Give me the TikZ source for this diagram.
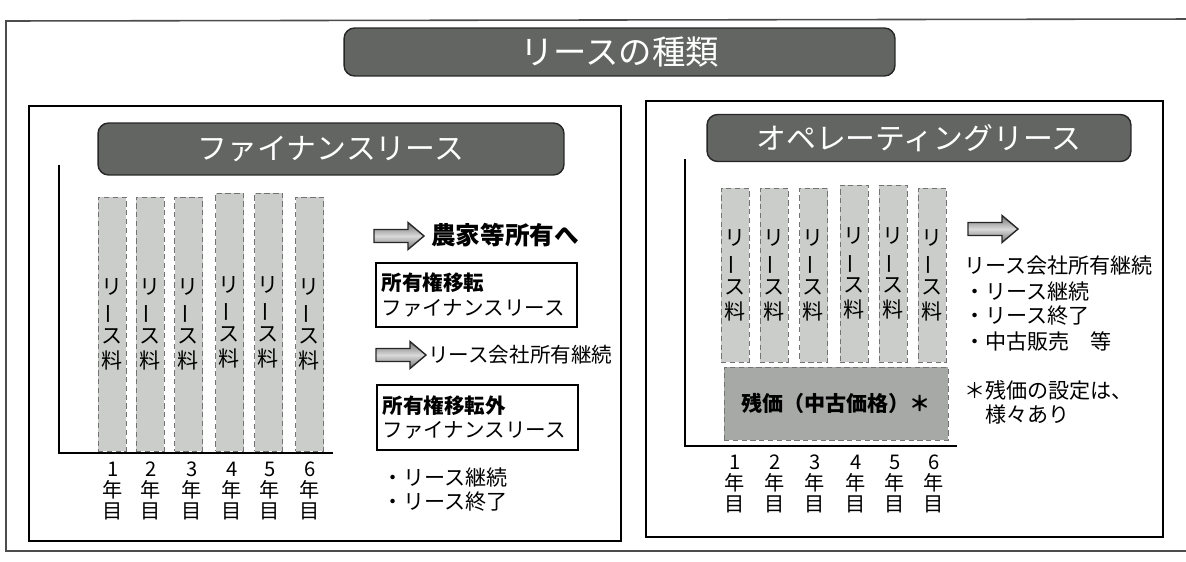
\documentclass[tikz,border=0pt]{standalone}
\usepackage{fontspec}
\setmainfont{Noto Sans CJK JP}
\definecolor{hdrfill}{HTML}{626562}
\definecolor{barfill}{HTML}{CBCDCB}
\definecolor{resfill}{HTML}{A7A9A7}
\newcommand{\tatebou}{\rotatebox[origin=c]{90}{ー}}
\newcommand{\barlabel}{リ\\\tatebou\\ス\\料}
\begin{document}
\begin{tikzpicture}[x=0.02cm,y=-0.02cm,
  frame/.style={draw=black, line width=1.1pt},
  hdr/.style={draw=black!85, line width=0.8pt, fill=hdrfill, rounded corners=6pt, text=white, inner sep=0pt},
  barbox/.style={draw=black!55, densely dashed, line width=0.4pt, fill=barfill, inner sep=0pt, minimum width=0.56cm, font=\fontsize{12}{14}\selectfont, align=center},
  lbar/.style={barbox, minimum height=5.08cm},
  rbar/.style={barbox, minimum height=3.48cm},
  yr/.style={align=center, inner sep=0pt, font=\fontsize{11.5}{12}\selectfont},
  txt/.style={anchor=west, inner sep=0pt, font=\fontsize{12}{14}\selectfont},
  plainbox/.style={draw=black, line width=1pt, text width=3.8cm, inner xsep=0.11cm, inner ysep=0pt, align=left, font=\fontsize{11.7}{14}\selectfont},
  arrowfill/.style={draw=black!85, line width=0.8pt, top color=black!55, bottom color=black!55, middle color=black!15},
  blockarrow/.pic={\path[arrowfill] (0,-6.5) -- (34,-6.5) -- (34,-13.5) -- (50,0) -- (34,13.5) -- (34,6.5) -- (0,6.5) -- cycle;}
]
\clip (0,0) rectangle (1186,561);
% outer frame
\draw[draw=black!70, line width=0.9pt] (1200,19) -- (6,21) -- (6,551) -- (1200,551);
% title
\node[hdr, minimum width=11.02cm, minimum height=0.96cm, font=\fontsize{19}{22}\selectfont] (title) at (619.5,52) {リースの種類};
% panels
\draw[frame] (29,106) rectangle (621,541);
\draw[frame] (646,101) rectangle (1163,537);
% headers
\node[hdr, minimum width=9.32cm, minimum height=1.04cm, font=\fontsize{17}{20}\selectfont] (hfin) at (331,149) {ファイナンスリース};
\node[hdr, minimum width=8.48cm, minimum height=0.94cm, font=\fontsize{17}{20}\selectfont] (hope) at (919,138) {オペレーティングリース};
% axes
\draw[line width=1.2pt] (59,165) -- (59,453) -- (333,453);
\draw[line width=1.2pt] (685,159) -- (685,446) -- (957,446);
% left bars
\node[lbar] (lb1) at (112,324) {\barlabel};
\node[lbar] (lb2) at (150,324) {\barlabel};
\node[lbar] (lb3) at (188.5,324) {\barlabel};
\node[lbar, minimum height=5.16cm] (lb4) at (229.5,322) {\barlabel};
\node[lbar, minimum height=5.16cm] (lb5) at (268.5,322) {\barlabel};
\node[lbar] (lb6) at (309.5,324) {\barlabel};
% left year labels
\node[yr] (ly1) at (113,491) {1\\年\\目};
\node[yr] (ly2) at (151,491) {2\\年\\目};
\node[yr] (ly3) at (192,491) {3\\年\\目};
\node[yr] (ly4) at (232,491) {4\\年\\目};
\node[yr] (ly5) at (270,491) {5\\年\\目};
\node[yr] (ly6) at (310,491) {6\\年\\目};
% left right-side content
\pic at (374,236) {blockarrow};
\node[txt, font=\fontsize{14}{16}\selectfont\bfseries] (own) at (431,235) {農家等所有へ};
\node[plainbox, minimum height=1.28cm] (box1) at (476.5,295) {{\bfseries 所有権移転}\\ファイナンスリース};
\pic at (376,355) {blockarrow};
\node[txt, font=\fontsize{11.7}{14}\selectfont] (cont1) at (428,355) {リース会社所有継続};
\node[plainbox, minimum height=1.3cm] (box2) at (477.5,417.5) {{\bfseries 所有権移転外}\\ファイナンスリース};
\node[txt] (lc1) at (382,477) {・リース継続};
\node[txt] (lc2) at (382,502) {・リース終了};
% right bars
\node[rbar] (rb1) at (735,275) {\barlabel};
\node[rbar] (rb2) at (774,275) {\barlabel};
\node[rbar] (rb3) at (813.5,275) {\barlabel};
\node[rbar, minimum height=3.54cm] (rb4) at (854,273.5) {\barlabel};
\node[rbar, minimum height=3.54cm] (rb5) at (893,273.5) {\barlabel};
\node[rbar] (rb6) at (932,275) {\barlabel};
\node[draw=black!55, densely dashed, line width=0.5pt, fill=resfill, minimum width=4.48cm, minimum height=1.46cm, inner sep=0pt, font=\fontsize{12}{14}\selectfont\bfseries] (res) at (836,403.5) {残価（中古価格）＊};
% right year labels
\node[yr] (ry1) at (735,484) {1\\年\\目};
\node[yr] (ry2) at (775,484) {2\\年\\目};
\node[yr] (ry3) at (815,484) {3\\年\\目};
\node[yr] (ry4) at (856,484) {4\\年\\目};
\node[yr] (ry5) at (895,484) {5\\年\\目};
\node[yr] (ry6) at (934,484) {6\\年\\目};
% right text
\pic at (968,229) {blockarrow};
\node[txt] (rc0) at (964,266) {リース会社所有継続};
\node[txt] (rc1) at (964,291) {・リース継続};
\node[txt] (rc2) at (964,316) {・リース終了};
\node[txt] (rc3) at (964,341) {・中古販売　等};
\node[txt] (rn1) at (964,390) {＊残価の設定は、};
\node[txt] (rn2) at (964,414) {　様々あり};
\end{tikzpicture}
\end{document}
